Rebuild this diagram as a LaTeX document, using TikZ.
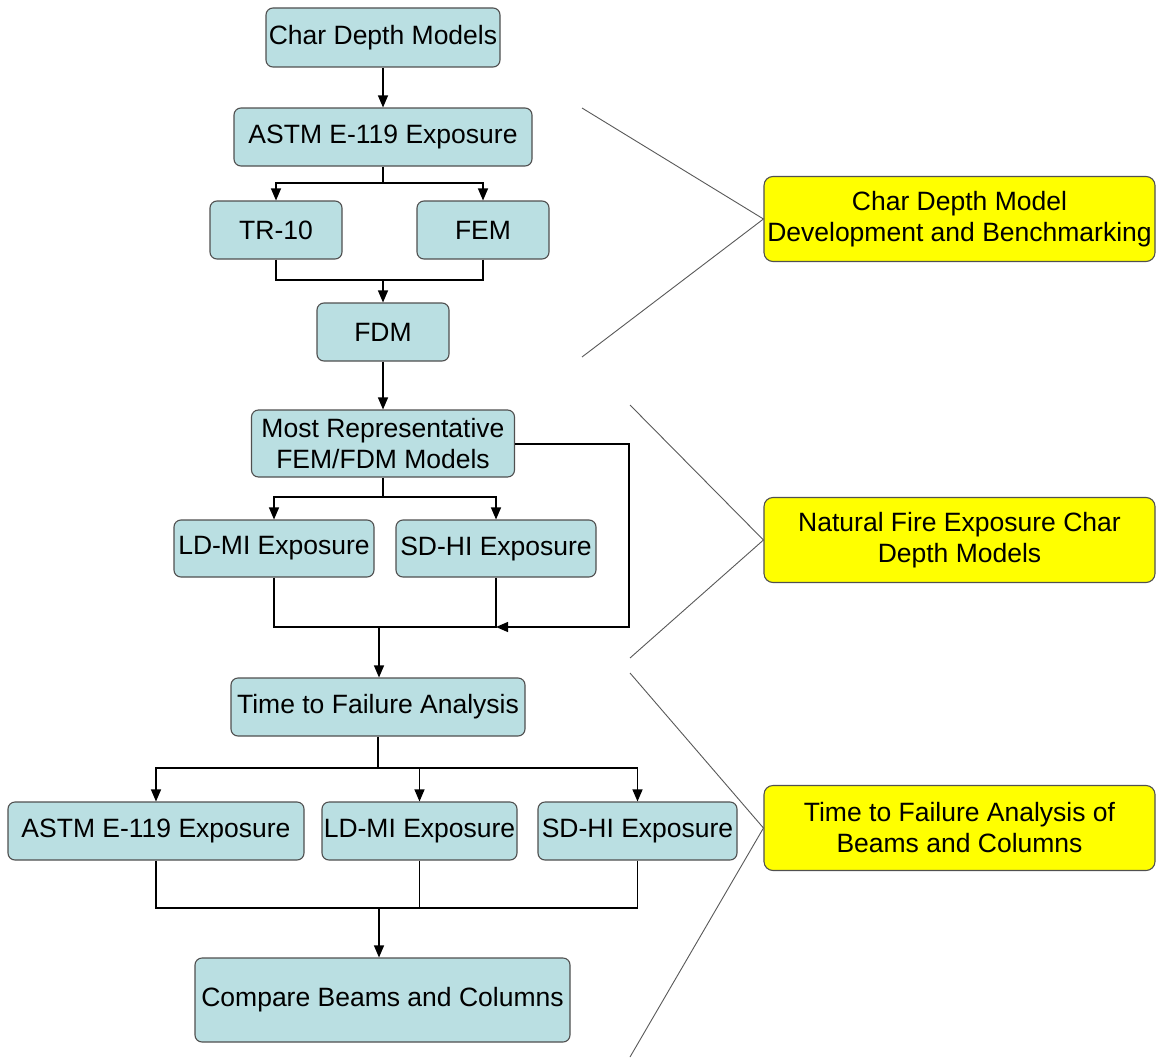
\documentclass[tikz,border=0pt]{standalone}
\usepackage{fontspec}
\setmainfont{Liberation Sans}
\usetikzlibrary{arrows.meta}
\definecolor{boxblue}{RGB}{186,223,226}
\definecolor{boxedge}{RGB}{80,80,80}
\definecolor{hiyellow}{RGB}{255,255,0}
\begin{document}
\begin{tikzpicture}[x=1pt,y=-1pt,
  every node/.style={font=\fontsize{26.5}{31}\selectfont, align=center, inner sep=0pt},
  bluebox/.style={draw=boxedge, line width=1.1pt, fill=boxblue, rounded corners=7pt},
  yelbox/.style={draw=boxedge, line width=1.1pt, fill=hiyellow, rounded corners=9pt, minimum width=391pt, minimum height=85pt},
  conn/.style={draw=black, line width=1.2pt},
  arr/.style={conn, -{Triangle[length=12pt,width=10pt]}},
  brk/.style={draw=black!65, line width=0.9pt}
]
\useasboundingbox (0,0) rectangle (1156,1057);
\fill[white] (0,0) rectangle (1156,1057);

% blue nodes
\node[bluebox, minimum width=234pt, minimum height=59pt] (cdm) at (383,37.5) {Char Depth Models};
\node[bluebox, minimum width=298pt, minimum height=58pt] (astm1) at (383,137) {ASTM E-119 Exposure};
\node[bluebox, minimum width=132pt, minimum height=58pt] (tr) at (276,230) {TR-10};
\node[bluebox, minimum width=132pt, minimum height=58pt] (fem) at (483,230) {FEM};
\node[bluebox, minimum width=132pt, minimum height=58pt] (fdm) at (383,332) {FDM};
\node[bluebox, minimum width=263pt, minimum height=67pt] (mr) at (383,443.5) {Most Representative\\FEM/FDM Models};
\node[bluebox, minimum width=200pt, minimum height=57pt] (ld1) at (274,548.5) {LD-MI Exposure};
\node[bluebox, minimum width=200pt, minimum height=57pt] (sd1) at (496,548.5) {SD-HI Exposure};
\node[bluebox, minimum width=294pt, minimum height=58pt] (ttf) at (378,707) {Time to Failure Analysis};
\node[bluebox, minimum width=296pt, minimum height=58pt] (astm2) at (156,831) {ASTM E-119 Exposure};
\node[bluebox, minimum width=195pt, minimum height=58pt] (ld2) at (419.5,831) {LD-MI Exposure};
\node[bluebox, minimum width=199pt, minimum height=58pt] (sd2) at (637.5,831) {SD-HI Exposure};
\node[bluebox, minimum width=375pt, minimum height=84pt] (cmp) at (382.5,1000) {Compare Beams and Columns};

% yellow nodes
\node[yelbox] (y1) at (959.5,219) {Char Depth Model\\Development and Benchmarking};
\node[yelbox] (y2) at (959.5,540) {Natural Fire Exposure Char\\Depth Models};
\node[yelbox] (y3) at (959.5,828) {Time to Failure Analysis of\\Beams and Columns};

% junction coordinates
\coordinate (j1) at (383,183);
\coordinate (j2) at (383,280);
\coordinate (j3) at (383,497);
\coordinate (j4) at (379,627);
\coordinate (fb1) at (629,444);
\coordinate (fb2) at (629,627);
\coordinate (j5) at (378,768);
\coordinate (j6) at (379,908);

% connectors
\draw[arr] (cdm.south) -- (astm1.north);
\draw[conn] (astm1.south) -- (j1);
\draw[arr] (j1) -| (tr.north);
\draw[arr] (j1) -| (fem.north);
\draw[conn] (tr.south) |- (j2);
\draw[conn] (fem.south) |- (j2);
\draw[arr] (j2) -- (j2 |- fdm.north);
\draw[arr] (fdm.south) -- (fdm.south |- mr.north);
\draw[conn] (mr.south) -- (j3);
\draw[arr] (j3) -| (ld1.north);
\draw[arr] (j3) -| (sd1.north);
\draw[conn] (ld1.south) |- (j4);
\draw[conn] (sd1.south) |- (j4);
\draw[arr] (mr.east |- fb1) -- (fb1) -- (fb2) -- (sd1.south |- fb2);
\draw[arr] (j4) -- (j4 |- ttf.north);
\draw[conn] (ttf.south) -- (j5);
\draw[arr] (j5) -| (astm2.north);
\draw[arr] (j5) -| (ld2.north);
\draw[arr] (j5) -| (sd2.north);
\draw[conn] (astm2.south) |- (j6);
\draw[conn] (ld2.south) |- (j6);
\draw[conn] (sd2.south) |- (j6);
\draw[arr] (j6) -- (j6 |- cmp.north);

% bracket lines
\coordinate (b1a) at (582,108);
\coordinate (b1b) at (582,357);
\coordinate (b2a) at (630,405);
\coordinate (b2b) at (630,658);
\coordinate (b3a) at (630,673);
\coordinate (b3b) at (630,1057);
\draw[brk] (b1a) -- (y1.west) -- (b1b);
\draw[brk] (b2a) -- (y2.west) -- (b2b);
\draw[brk] (b3a) -- (y3.west) -- (b3b);
\end{tikzpicture}
\end{document}
